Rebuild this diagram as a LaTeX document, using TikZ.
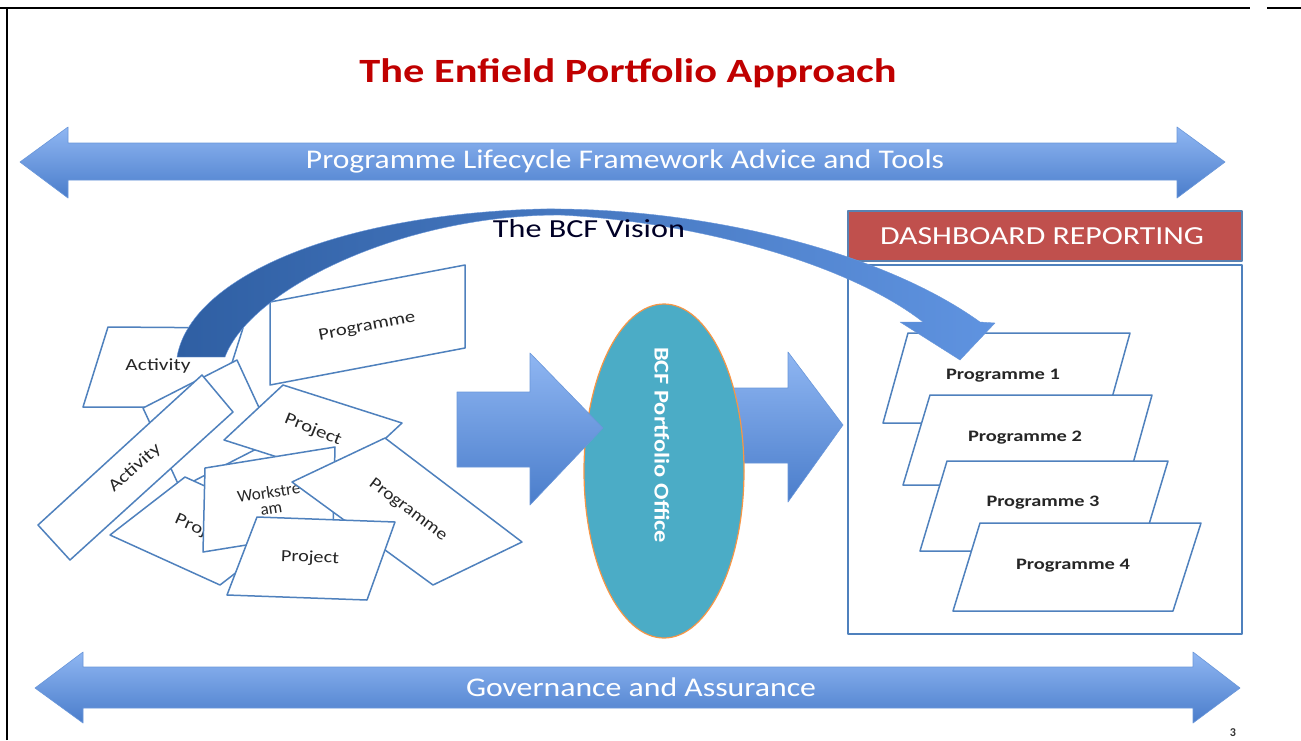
\documentclass[tikz,border=0pt]{standalone}
\usepackage{fontspec}
\setmainfont{Carlito}
\usetikzlibrary{shapes.geometric}
\definecolor{cardblue}{HTML}{4F81BD}
\definecolor{arrlight}{HTML}{8FB6F2}
\definecolor{arrdark}{HTML}{4A7DCB}
\definecolor{arredge}{HTML}{6A97DA}
\definecolor{titlered}{HTML}{C00000}
\definecolor{dashred}{HTML}{C0504D}
\definecolor{ellfill}{HTML}{4BACC6}
\definecolor{ellline}{HTML}{F79646}
\definecolor{curvedark}{HTML}{2F5FA3}
\definecolor{curvemid}{HTML}{6B95DA}
\definecolor{curvelight}{HTML}{5F93E0}
\definecolor{cardtxt}{HTML}{262626}
\newcommand\fitx[2]{\resizebox{#1}{\height}{#2}}
\newcommand\fsz[1]{\fontsize{#1}{#1}\selectfont}
\begin{document}
\begin{tikzpicture}[x=1pt,y=-1pt,line join=round,
  card/.style={draw=cardblue,line width=1.5pt,fill=white},
  cardtext/.style={text=cardtxt,inner sep=0pt},
  blockarrow/.style={top color=arrlight,bottom color=arrdark,draw=arredge,line width=0.6pt},
  lighttext/.style={text=white,inner sep=0pt}]
\useasboundingbox (0,0) rectangle (1301,740);
\fill[white] (0,0) rectangle (1301,740);
% page frame
\draw[line width=2pt] (7,740) -- (7,8) -- (1250,8);
\draw[line width=2pt] (0,8) -- (7,8);
\draw[line width=2.5pt] (1267,8) -- (1301,8);
% title
\node[text=titlered,inner sep=0pt] (title) at (628,73) {\fitx{537pt}{\fsz{34}\bfseries The Enfield Portfolio Approach}};
% top double arrow
\path[blockarrow] (20,162) -- (68,127) -- (68,143) -- (1177,143) -- (1177,127) -- (1225,162) -- (1177,198) -- (1177,180) -- (68,180) -- (68,198) -- cycle;
\node[lighttext] (life) at (625,161) {\fitx{638pt}{\fsz{27}Programme Lifecycle Framework Advice and Tools}};
% bottom double arrow
\path[blockarrow] (35,688) -- (83,652) -- (83,667) -- (1193,667) -- (1193,652) -- (1240,688) -- (1193,723) -- (1193,708) -- (83,708) -- (83,723) -- cycle;
\node[lighttext] (gov) at (641,687) {\fitx{350pt}{\fsz{27}Governance and Assurance}};
% dashboard
\draw[fill=dashred,draw=cardblue!80!gray,line width=1.2pt] (848,211) rectangle (1242,261);
\node[lighttext] (dash) at (1042,236) {\fitx{324pt}{\fsz{26}DASHBOARD REPORTING}};
\draw[draw=cardblue,line width=1.5pt,fill=white] (848,265) rectangle (1242,634);
% programme cards on the right
\draw[card] (908,333) -- (1130,333) -- (1105,423) -- (883,423) -- cycle;
\node[cardtext] (p1) at (1003,376) {\fitx{114pt}{\fsz{16}\bfseries Programme 1}};
\draw[card] (930,395) -- (1152,395) -- (1127,485) -- (903,485) -- cycle;
\node[cardtext] (p2) at (1025,438) {\fitx{114pt}{\fsz{16}\bfseries Programme 2}};
\draw[card] (947,461) -- (1168,461) -- (1141,551) -- (920,551) -- cycle;
\node[cardtext] (p3) at (1043,503) {\fitx{113pt}{\fsz{16}\bfseries Programme 3}};
\draw[card] (980,523) -- (1201,523) -- (1173,611) -- (953,611) -- cycle;
\node[cardtext] (p4) at (1073,566) {\fitx{114pt}{\fsz{16}\bfseries Programme 4}};
% left cluster of cards
\draw[card] (108,327) -- (243,328) -- (218,407) -- (83,407) -- cycle;
\node[cardtext] (a1) at (158,366) {\fitx{65pt}{\fsz{17}Activity}};
\draw[card] (143,408) -- (237,360) -- (274,440) -- (180,488) -- cycle;
\draw[card] (202,375) -- (233,412) -- (70,560) -- (38,525) -- cycle;
\node[cardtext,rotate=42] (a3) at (135,468) {\fitx{64pt}{\fsz{17}Activity}};
\draw[card] (110,535) -- (185,477) -- (295,527) -- (220,585) -- cycle;
\node[cardtext,rotate=-24] (pj3) at (203,531) {\fitx{60pt}{\fsz{17}Project}};
\draw[card] (283,385) -- (402,423) -- (343,478) -- (224,440) -- cycle;
\node[cardtext,rotate=-22] (pj1) at (313,430) {\fitx{60pt}{\fsz{17}Project}};
\draw[card] (205,468) -- (335,447) -- (333,531) -- (203,552) -- cycle;
\node[cardtext,rotate=9,align=center,font=\fontsize{17}{16}\selectfont] (ws) at (270,500) {Workstre\\am};
\draw[card] (292,482) -- (385,438) -- (522,542) -- (433,585) -- cycle;
\node[cardtext,rotate=-37] (pr2) at (408,510) {\fitx{93pt}{\fsz{17}Programme}};
\draw[card] (257,517) -- (395,522) -- (367,600) -- (227,595) -- cycle;
\node[cardtext,rotate=-2] (pj2) at (310,558) {\fitx{58pt}{\fsz{17}Project}};
\draw[card] (270,302) -- (465,265) -- (465,348) -- (270,385) -- cycle;
\node[cardtext,rotate=10.7] (ptop) at (367,327) {\fitx{98pt}{\fsz{17}Programme}};
% block arrows and portfolio office
\path[blockarrow] (725,388) -- (788,388) -- (788,352) -- (843,425) -- (788,502) -- (788,463) -- (725,463) -- cycle;
\node[ellipse,draw=ellline,fill=ellfill,line width=1.2pt,minimum width=160pt,minimum height=334pt,inner sep=0pt] (bcf) at (664,471) {};
\path[blockarrow] (457,392) -- (530,392) -- (530,353) -- (603,428) -- (530,505) -- (530,467) -- (457,467) -- cycle;
\node[lighttext,rotate=-90] (bcftxt) at (662,445) {\fitx{196pt}{\fsz{21}\bfseries BCF Portfolio Office}};
% curved vision arrow
\shade[left color=curvedark,middle color=curvemid,right color=curvelight,draw=arredge,line width=0.4pt]
  (177,357) .. controls (190,280) and (330,215) .. (540,209)
  .. controls (700,207) and (880,250) .. (980,322)
  -- (995,323) -- (960,360) -- (900,322) -- (923,322)
  .. controls (850,265) and (700,222) .. (560,215)
  .. controls (400,215) and (250,290) .. (225,357) -- cycle;
\node[text=black!85!blue,inner sep=0pt] (vision) at (589,229) {\fitx{192pt}{\fsz{26}The BCF Vision}};
% page number
\node[text=black!80,inner sep=0pt] (pgno) at (1233,733) {\fsz{12}\bfseries 3};
\end{tikzpicture}
\end{document}
